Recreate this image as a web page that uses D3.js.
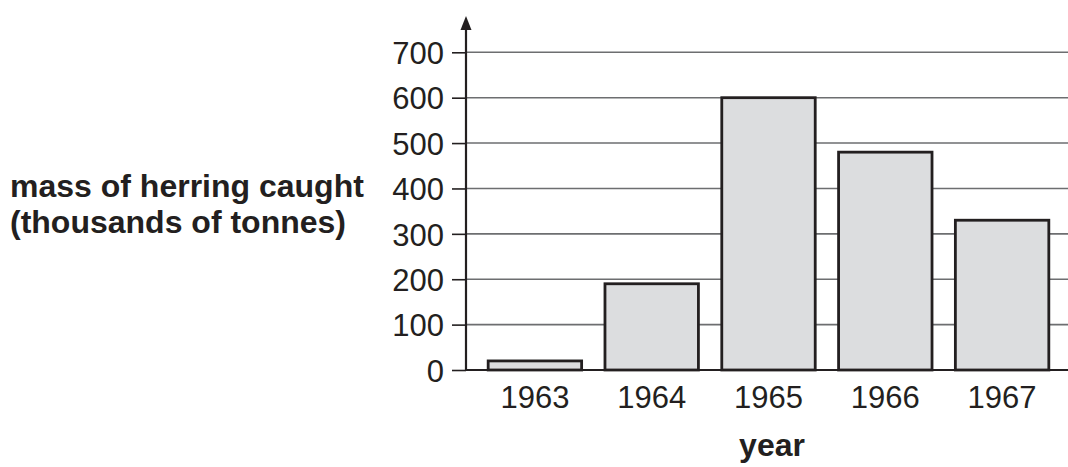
<!DOCTYPE html>
<html><head><meta charset="utf-8">
<script src="https://cdn.jsdelivr.net/npm/d3@7"></script>
<style>body{margin:0;background:#fff}svg{display:block}</style>
</head><body>
<svg id="c" width="1068" height="467"></svg>
<script>
const years = ["1963","1964","1965","1966","1967"];
const values = [20, 190, 600, 480, 330];
const yTicks = [0,100,200,300,400,500,600,700];
const yLabelLines = ["mass of herring caught","(thousands of tonnes)"];
const xTitle = "year";

const svg = d3.select("#c");
const ink = "#231f20";
const font = "'Liberation Sans', Arial, Helvetica, sans-serif";
const axisX = 466, y0 = 370;
const y = d3.scaleLinear().domain([0,700]).range([y0, 52.3]);
const x = d3.scaleBand().domain(years).range([476.5, 1060.5]).paddingInner(0.2).paddingOuter(0.1);

// gridlines
svg.append("g").selectAll("line").data(yTicks).join("line")
  .attr("x1", axisX).attr("x2", 1068)
  .attr("y1", d=>y(d)).attr("y2", d=>y(d))
  .attr("stroke", d=> d===0 ? ink : "#6d6e70")
  .attr("stroke-width", d=> d===0 ? 2.2 : 1.6);

// bars
svg.append("g").selectAll("rect").data(years).join("rect")
  .attr("x", d=>x(d)).attr("width", x.bandwidth())
  .attr("y", (d,i)=>y(values[i])).attr("height", (d,i)=>y0 - y(values[i]))
  .attr("fill", "#dcdddf").attr("stroke", ink).attr("stroke-width", 2.8);

// y axis
const yAxis = d3.axisLeft(y).tickValues(yTicks).tickSize(14).tickPadding(8).tickFormat(d3.format("d"));
const ga = svg.append("g").attr("transform", `translate(${axisX},0)`).call(yAxis);
ga.select(".domain").remove();
ga.selectAll(".tick line").attr("stroke", ink).attr("stroke-width", 1.6);
ga.selectAll(".tick text").attr("fill", ink).attr("font-family", font).attr("font-size", 31).attr("dy", "0.36em");

// axis vertical line with arrow
svg.append("line").attr("x1", axisX).attr("x2", axisX).attr("y1", y0+1).attr("y2", 28)
  .attr("stroke", ink).attr("stroke-width", 2.2);
svg.append("path").attr("d", `M${axisX},16 L${axisX-5.5},30 L${axisX+5.5},30 Z`).attr("fill", ink);

// x axis labels
const xAxis = d3.axisBottom(x).tickSize(0).tickPadding(0);
const gx = svg.append("g").attr("transform", `translate(0,${y0})`).call(xAxis);
gx.select(".domain").remove();
gx.selectAll(".tick text").attr("fill", ink).attr("font-family", font).attr("font-size", 31)
  .attr("dy", null).attr("y", 38);

// y title
svg.append("text").attr("font-family", font).attr("font-weight", "bold").attr("font-size", 32).attr("fill", ink)
  .selectAll("tspan").data(yLabelLines).join("tspan")
  .attr("x", 10).attr("y", (d,i)=>197 + i*36).text(d=>d);

// x title
svg.append("text").attr("x", 772).attr("y", 456).attr("text-anchor", "middle")
  .attr("font-family", font).attr("font-weight", "bold").attr("font-size", 32).attr("fill", ink).text(xTitle);
</script>
</body></html>
